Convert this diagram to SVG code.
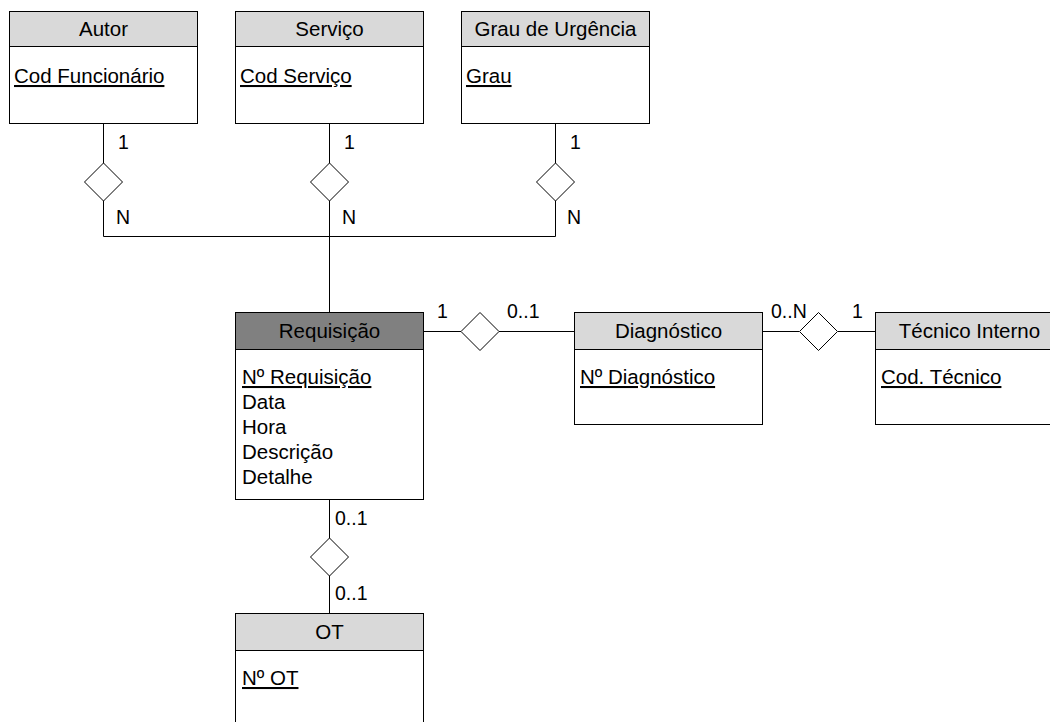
<svg xmlns="http://www.w3.org/2000/svg" width="1050" height="722" viewBox="0 0 1050 722">
  <style>
    text { font-family: "Liberation Sans", Arial, sans-serif; font-size: 20.5px; fill: #000; }
    .title { text-anchor: middle; }
    .key { text-decoration: underline; }
    .box { fill: #fff; stroke: #000; stroke-width: 1; }
    .hdr { fill: #d9d9d9; stroke: #000; stroke-width: 1; }
    .hdr-dark { fill: #808080; stroke: #000; stroke-width: 1; }
    .line { fill: none; stroke: #000; stroke-width: 1; }
    .rel { fill: #fff; stroke: #000; stroke-width: 1; }
    .card { font-size: 19.5px; }
  </style>
  <defs>
    <polygon id="diamond" points="0,-19 19,0 0,19 -19,0" class="rel"/>
  </defs>

  <!-- connectors -->
  <g id="connectors">
    <path class="line" d="M103.5 123 V163 M103.5 201 V236.5 H555.5 M329.5 123 V163 M329.5 201 V312 M555.5 123 V163 M555.5 201 V236.5"/>
    <path class="line" d="M423 331.5 H461 M499 331.5 H574 M762 331.5 H799 M838 331.5 H875"/>
    <path class="line" d="M329.5 500 V538 M329.5 576 V613"/>
    <use href="#diamond" x="103.5" y="182"/>
    <use href="#diamond" x="329.5" y="182"/>
    <use href="#diamond" x="555.5" y="182"/>
    <use href="#diamond" x="480" y="331.5"/>
    <use href="#diamond" x="818.5" y="331.5"/>
    <use href="#diamond" x="329.5" y="557"/>
    <text class="card" x="118" y="149">1</text>
    <text class="card" x="116" y="224">N</text>
    <text class="card" x="344" y="149">1</text>
    <text class="card" x="342" y="224">N</text>
    <text class="card" x="570" y="149">1</text>
    <text class="card" x="567" y="224">N</text>
    <text class="card" x="437" y="318">1</text>
    <text class="card" x="507" y="318">0..1</text>
    <text class="card" x="771" y="318">0..N</text>
    <text class="card" x="852" y="318">1</text>
    <text class="card" x="335" y="525">0..1</text>
    <text class="card" x="335" y="600">0..1</text>
  </g>

  <g id="autor">
    <rect class="box" x="9.5" y="11.5" width="188" height="112"/>
    <rect class="hdr" x="9.5" y="11.5" width="188" height="35"/>
    <text class="title" x="103.5" y="36">Autor</text>
    <text class="key" x="14" y="83">Cod Funcionário</text>
  </g>

  <g id="servico">
    <rect class="box" x="235.5" y="11.5" width="188" height="112"/>
    <rect class="hdr" x="235.5" y="11.5" width="188" height="35"/>
    <text class="title" x="329.5" y="36">Serviço</text>
    <text class="key" x="240" y="83">Cod Serviço</text>
  </g>

  <g id="grau-urgencia">
    <rect class="box" x="461.5" y="11.5" width="188" height="112"/>
    <rect class="hdr" x="461.5" y="11.5" width="188" height="35"/>
    <text class="title" x="555.5" y="36">Grau de Urgência</text>
    <text class="key" x="466" y="83">Grau</text>
  </g>

  <g id="requisicao">
    <rect class="box" x="235.5" y="312.5" width="188" height="187"/>
    <rect class="hdr-dark" x="235.5" y="312.5" width="188" height="37"/>
    <text class="title" x="329.5" y="338">Requisição</text>
    <text class="key" x="242" y="384">Nº Requisição</text>
    <text x="242" y="409">Data</text>
    <text x="242" y="434">Hora</text>
    <text x="242" y="459">Descrição</text>
    <text x="242" y="484">Detalhe</text>
  </g>

  <g id="diagnostico">
    <rect class="box" x="574.5" y="312.5" width="188" height="112"/>
    <rect class="hdr" x="574.5" y="312.5" width="188" height="37"/>
    <text class="title" x="668.5" y="338">Diagnóstico</text>
    <text class="key" x="580" y="384">Nº Diagnóstico</text>
  </g>

  <g id="tecnico-interno">
    <rect class="box" x="875.5" y="312.5" width="188" height="112"/>
    <rect class="hdr" x="875.5" y="312.5" width="188" height="37"/>
    <text class="title" x="969.5" y="338">Técnico Interno</text>
    <text class="key" x="881" y="384">Cod. Técnico</text>
  </g>

  <g id="ot">
    <rect class="box" x="235.5" y="613.5" width="188" height="130"/>
    <rect class="hdr" x="235.5" y="613.5" width="188" height="37"/>
    <text class="title" x="329.5" y="639">OT</text>
    <text class="key" x="242" y="685">Nº OT</text>
  </g>
</svg>
